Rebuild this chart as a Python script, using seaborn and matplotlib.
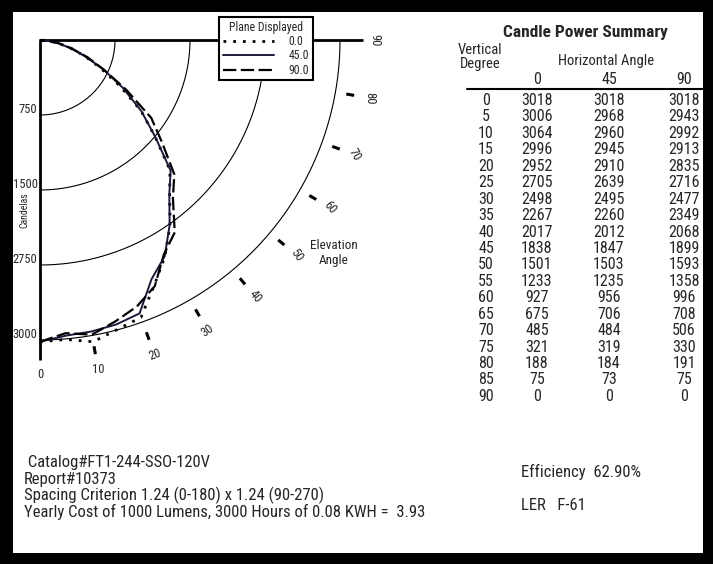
import numpy as np
import pandas as pd
import matplotlib
matplotlib.use("Agg")
import matplotlib.pyplot as plt
from matplotlib import font_manager as fm
from matplotlib.patches import Rectangle
import seaborn as sns

# ---------------- data ----------------
vertical_deg = [0, 5, 10, 15, 20, 25, 30, 35, 40, 45, 50, 55, 60, 65, 70, 75, 80, 85, 90]
cp_0 = [3018, 3006, 3064, 2996, 2952, 2705, 2498, 2267, 2017, 1838, 1501, 1233, 927, 675, 485, 321, 188, 75, 0]
cp_45 = [3018, 2968, 2960, 2945, 2910, 2639, 2495, 2260, 2012, 1847, 1503, 1235, 956, 706, 484, 319, 184, 73, 0]
cp_90 = [3018, 2943, 2992, 2913, 2835, 2716, 2477, 2349, 2068, 1899, 1593, 1358, 996, 708, 506, 330, 191, 75, 0]
planes = ["0.0", "45.0", "90.0"]
horiz_headers = ["0", "45", "90"]
ring_values = [750, 1500, 2250, 3000]
ring_labels = ["750", "1500", "2750", "3000"]
elev_angles = [0, 10, 20, 30, 40, 50, 60, 70, 80, 90]
elev_labels = ["0", "10", "20", "30", "40", "50", "60", "70", "80", "90"]
footer_lines = [" Catalog#FT1-244-SSO-120V", "Report#10373",
                "Spacing Criterion 1.24 (0-180) x 1.24 (90-270)",
                "Yearly Cost of 1000 Lumens, 3000 Hours of 0.08 KWH =  3.93"]
efficiency_text = "Efficiency  62.90%"
ler_text = "LER   F-61"

# ---------------- style ----------------
sns.set_style("white")
names = {f.name for f in fm.fontManager.ttflist}
fam = "Liberation Sans"
for cand in ["Liberation Sans Narrow", "Arial Narrow", "Roboto Condensed", "Archivo Narrow"]:
    if cand in names:
        fam = cand
        break
plt.rcParams["font.family"] = [fam, "DejaVu Sans"]

W, H = 713, 564
fig = plt.figure(figsize=(W / 100, H / 100), dpi=100)
fig.patch.set_facecolor("black")
fig.patches.append(Rectangle((13 / W, 1 - 553 / H), 690 / W, 541 / H,
                             transform=fig.transFigure, fc="white", ec="none", zorder=-5))


def fx(px):
    return px / W


def fy(py):
    return 1 - py / H


# photometric quarter-polar plot on a cartesian axes (1 cd = 0.1 px)
ax = fig.add_axes([fx(14), fy(400), 426 / W, 386 / H])
ax.set_xlim(-260, 4000)
ax.set_ylim(-3600, 260)
ax.axis("off")
ax.patch.set_visible(False)

ax.plot([0, 0], [0, -3200], color="black", lw=2, solid_capstyle="butt")
ax.plot([0, 3230], [0, 0], color="black", lw=2, solid_capstyle="butt")

th = np.radians(np.linspace(0, 90, 200))
for r, lab in zip(ring_values, ring_labels):
    ax.plot(r * np.sin(th), -r * np.cos(th), color="black", lw=0.8)
    ax.text(-25, -r + 55, lab, ha="right", va="center", fontsize=9)
ax.text(-160, -1700, "Candelas", rotation=90, ha="center", va="center", fontsize=7)

rot_style = {0: 0, 10: 0, 20: 20, 30: 35, 40: -50, 50: -55, 60: -50, 70: -60, 80: -90, 90: -90}
for a, lab in zip(elev_angles, elev_labels):
    t = np.radians(a)
    if 0 < a < 90:
        ax.plot([3110 * np.sin(t), 3190 * np.sin(t)], [-3110 * np.cos(t), -3190 * np.cos(t)],
                color="black", lw=2.2, solid_capstyle="butt")
    ax.text(3350 * np.sin(t), -3350 * np.cos(t), lab, ha="center", va="center",
            fontsize=9, rotation=rot_style[a], rotation_mode="anchor")
ax.text(2940, -2130, "Elevation\nAngle", ha="center", va="center", fontsize=9.5, linespacing=1.2)

rad = np.radians(vertical_deg)
series = {"0.0": cp_0, "45.0": cp_45, "90.0": cp_90}
styles = {"0.0": dict(color="black", lw=2.0, linestyle=(0, (1, 2.5))),
          "45.0": dict(color="#1a1a3c", lw=1.4, linestyle="-"),
          "90.0": dict(color="black", lw=1.6, linestyle=(0, (6, 2)))}
handles = []
for p in planes:
    r = np.asarray(series[p], dtype=float)
    df = pd.DataFrame({"x": r * np.sin(rad), "y": -r * np.cos(rad)})
    sns.lineplot(data=df, x="x", y="y", ax=ax, sort=False, estimator=None, **styles[p])
    handles.append(ax.lines[-1])

leg = ax.legend(handles, planes, title="Plane Displayed", loc="upper left",
                bbox_to_anchor=(fx(219), fy(17)), bbox_transform=fig.transFigure,
                frameon=True, fancybox=False, edgecolor="black", framealpha=1,
                fontsize=8.5, title_fontsize=8.5, handlelength=4.4, borderpad=0.3,
                labelspacing=0.12, handletextpad=1.2, borderaxespad=0)
leg.get_frame().set_linewidth(1.5)

# ---------------- table ----------------
fig.text(fx(585), fy(33), "Candle Power Summary", ha="center", va="center",
         fontsize=12.5, fontweight="bold")
fig.text(fx(480), fy(57), "Vertical\nDegree", ha="center", va="center", fontsize=10.5, linespacing=0.95)
fig.text(fx(606), fy(61), "Horizontal Angle", ha="center", va="center", fontsize=10.5)
col_x = [537, 609, 684]
for cx, h in zip(col_x, horiz_headers):
    fig.text(fx(cx), fy(80), h, ha="center", va="center", fontsize=11.5)
fig.add_artist(plt.Line2D([fx(467), fx(703)], [fy(89), fy(89)], color="black", lw=1.5,
                          transform=fig.transFigure))
for i, v in enumerate(vertical_deg):
    y = 100.5 + i * 16.44
    fig.text(fx(486), fy(y), str(v), ha="center", va="center", fontsize=11.5)
    for cx, vals in zip(col_x, [cp_0, cp_45, cp_90]):
        fig.text(fx(cx), fy(y), str(vals[i]), ha="center", va="center", fontsize=11.5)

# ---------------- footer ----------------
for i, line in enumerate(footer_lines):
    fig.text(fx(24), fy(463 + i * 16.3), line, ha="left", va="center", fontsize=12)
fig.text(fx(521), fy(472), efficiency_text, ha="left", va="center", fontsize=12)
fig.text(fx(521), fy(505), ler_text, ha="left", va="center", fontsize=12)

fig.savefig("out.png", dpi=100, facecolor=fig.get_facecolor())
